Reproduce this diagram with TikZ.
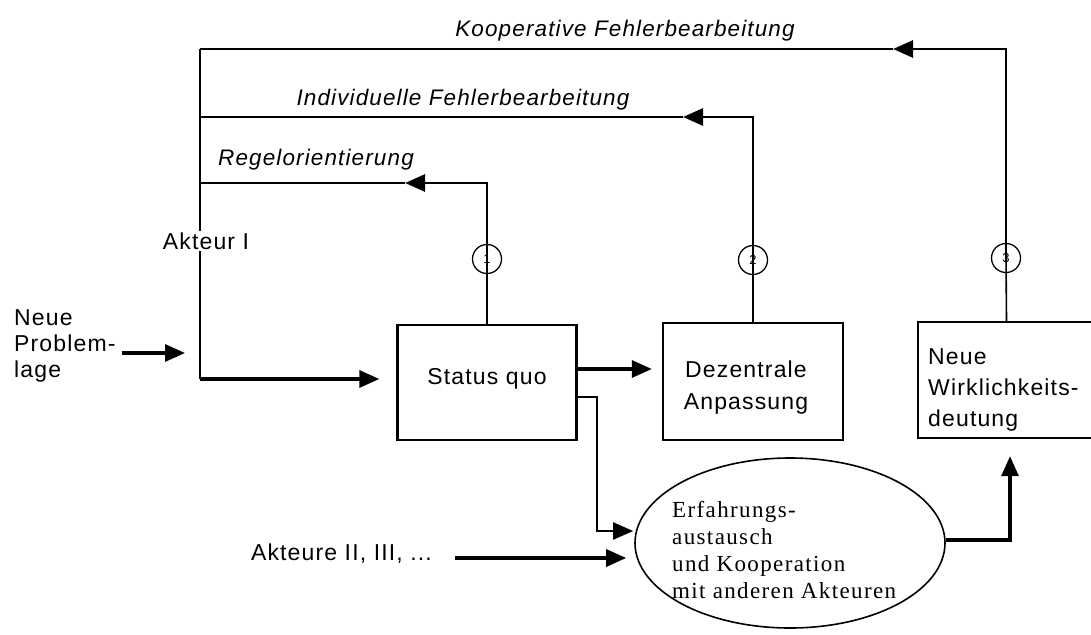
\documentclass[tikz,border=0pt]{standalone}
\usepackage{fontspec}
\usetikzlibrary{arrows.meta,shapes.geometric}
\newfontfamily\dsans{Liberation Sans}[LetterSpace=5]
\newfontfamily\dserif{Liberation Serif}[LetterSpace=6]
\begin{document}
\begin{tikzpicture}[x=1pt,y=-1pt,
  box/.style={draw,line width=2.4pt,inner sep=0pt},
  lab/.style={font=\dsans\fontsize{23}{26}\selectfont,inner sep=0pt},
  ilab/.style={font=\dsans\itshape\fontsize{22.5}{26}\selectfont,inner sep=0pt},
  slab/.style={font=\dserif\fontsize{23}{27}\selectfont,inner sep=0pt},
  circ/.style={draw,circle,minimum size=29pt,inner sep=0pt,line width=1.3pt,
    font=\dsans\fontsize{13}{13}\selectfont},
  fb/.style={line width=2.8pt},
  thinln/.style={line width=1.6pt},
  tip/.style={-{Triangle[length=20pt,width=17pt]}},
  arr/.style={line width=3.2pt,tip},
]
\useasboundingbox (0,0) rectangle (1091,634);

% boxes
\node[box,minimum width=179pt,minimum height=115pt] (sq) at (487,382.5) {};
\node[box,minimum width=180pt,minimum height=117pt] (da) at (753,381.5) {};
\node[box,minimum width=177pt,minimum height=116pt] (nw) at (1006.5,380) {};
\node[draw,ellipse,minimum width=310pt,minimum height=170pt,inner sep=0pt,line width=1.6pt] (el) at (790,543) {};

% box texts
\node[lab] (sqt) at (487,379) {Status quo};
\node[lab,align=center,font=\dsans\fontsize{23}{32}\selectfont] (dat) at (746,388) {Dezentrale\\Anpassung};
\node[lab,align=left,anchor=west,font=\dsans\fontsize{23}{31}\selectfont] (nwt) at (928,390) {Neue\\Wirklichkeits-\\deutung};
\node[slab,align=left,anchor=west] (elt) at (672,550) {Erfahrungs-\\austausch\\und Kooperation\\mit anderen Akteuren};

% circles
\node[circ] (c1) at (487,259) {1};
\node[circ] (c2) at (753,260) {2};
\node[circ] (c3) at (1006,258) {3};

% helper coordinates
\coordinate (r1) at (487,183);
\coordinate (t1) at (405,183);
\coordinate (l1) at (200,183);
\coordinate (r2) at (753,117);
\coordinate (t2) at (683,117);
\coordinate (l2) at (200,117);
\coordinate (r3) at (1006,49);
\coordinate (t3) at (893,49);
\coordinate (ltop) at (200,49);
\coordinate (lbot) at (200,379);
\coordinate (lv) at (200,353);
\coordinate (y369) at (0,369);
\coordinate (y397) at (0,397);
\coordinate (k1) at (597,397);
\coordinate (k2) at (597,531);
\coordinate (y531) at (0,531);
\coordinate (y558) at (0,558);
\coordinate (y540) at (0,540);
\coordinate (e1) at (1010,540);

% feedback loops
\draw[thinln] (sq.north) -- (c1.center);
\draw[fb,tip] (c1.center) -- (r1) -- (t1);
\draw[fb] (t1) -- (l1);
\draw[thinln] (da.north) -- (c2.center);
\draw[fb,tip] (c2.center) -- (r2) -- (t2);
\draw[fb] (t2) -- (l2);
\draw[thinln] (nw.north) -- (c3.center);
\draw[fb,tip] (c3.center) -- (r3) -- (t3);
\draw[fb] (t3) -- (ltop);
\draw[fb] (ltop) -- (lbot);

% left side
\node[lab,align=left,anchor=west,font=\dsans\fontsize{23}{26}\selectfont] (np) at (14,346) {Neue\\Problem-\\lage};
\draw[arr,shorten <=6pt,shorten >=15pt] (np.east |- lv) -- (lv);
\draw[arr,shorten >=17pt] (lbot) -- (sq.west |- lbot);

% main flow
\draw[arr,shorten >=10pt] (sq.east |- y369) -- (da.west |- y369);
\draw[line width=2.2pt,tip,shorten >=1pt] (sq.east |- y397) -- (k1) -- (k2) -- (el.west |- y531);
\node[lab,anchor=east] (ak) at (432,554) {Akteure II, III, ...};
\draw[arr,shorten <=23pt,shorten >=8pt] (ak.east |- y558) -- (el.west |- y558);
\draw[arr,shorten >=17pt] (el.east |- y540) -- (e1) -- (e1 |- nw.south);

% top labels
\node[ilab] (kfb) at (625,31) {Kooperative Fehlerbearbeitung};
\node[ilab] (ifb) at (463,100) {Individuelle Fehlerbearbeitung};
\node[ilab] (ro) at (316,160) {Regelorientierung};

% actor label over the vertical line
\node[lab,fill=white,inner sep=2pt] (a1) at (206,241) {Akteur I};
\end{tikzpicture}
\end{document}
